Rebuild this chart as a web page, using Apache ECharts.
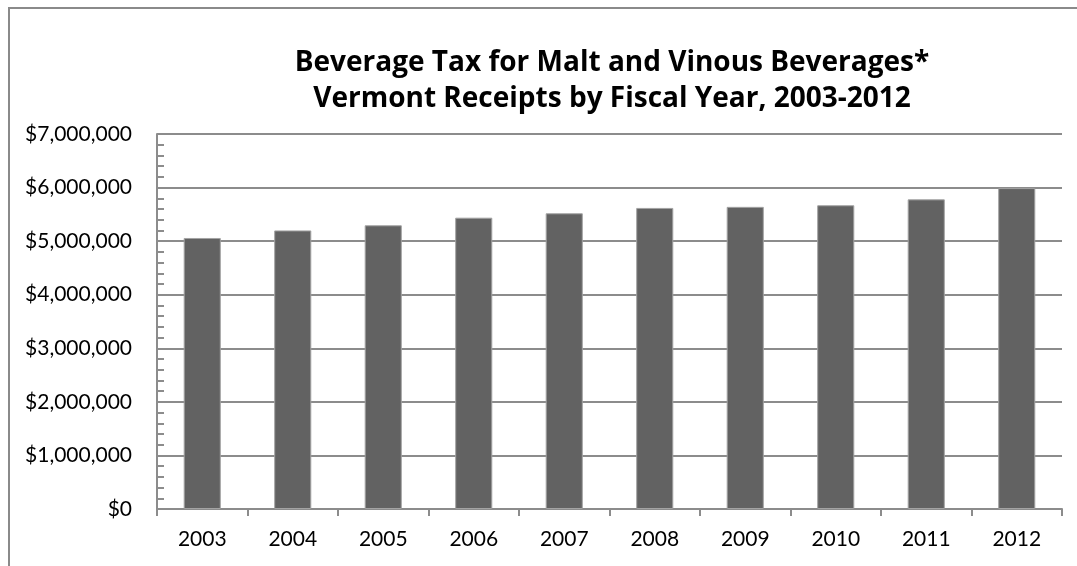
<!DOCTYPE html>
<html>
<head>
<meta charset="utf-8">
<script src="https://cdn.jsdelivr.net/npm/echarts@6/dist/echarts.min.js"></script>
<style>
  html, body { margin: 0; padding: 0; background: #fff; }
  #chart { width: 1077px; height: 566px; }
</style>
</head>
<body>
<div id="chart"></div>
<script>
// Fiscal years and beverage tax receipts (USD)
const years = ['2003', '2004', '2005', '2006', '2007', '2008', '2009', '2010', '2011', '2012'];
const receipts = [5059000, 5200000, 5296000, 5438000, 5520000, 5620000, 5640000, 5670000, 5780000, 5990000];
const titleLines = [
  'Beverage Tax for Malt and Vinous Beverages*',
  'Vermont Receipts by Fiscal Year, 2003-2012'
];

const FONT = 'Lato';
const GRID_GREY = '#8c8c8c';

function money(v) {
  return '$' + v.toLocaleString('en-US');
}

const chart = echarts.init(document.getElementById('chart'), null, { renderer: 'canvas' });

chart.setOption({
  animation: false,
  backgroundColor: '#ffffff',
  title: {
    text: titleLines.join('\n'),
    left: 607,
    top: 40,
    textAlign: 'center',
    textStyle: {
      fontFamily: 'Open Sans',
      fontWeight: 'bold',
      fontSize: 28,
      lineHeight: 36,
      color: '#000'
    }
  },
  graphic: [{
    type: 'rect',
    shape: { x: 9, y: 8, width: 1200, height: 700 },
    style: { fill: 'none', stroke: '#8a8a8a', lineWidth: 2 },
    silent: true
  }],
  grid: { left: 157, right: 15, top: 134, bottom: 57 },
  xAxis: {
    type: 'category',
    data: years,
    boundaryGap: true,
    axisLine: { lineStyle: { color: GRID_GREY, width: 2 } },
    axisTick: { show: true, length: 7, lineStyle: { color: GRID_GREY, width: 2 } },
    axisLabel: { margin: 20, fontFamily: FONT, fontSize: 21, color: '#000' }
  },
  yAxis: {
    type: 'value',
    min: 0,
    max: 7000000,
    interval: 1000000,
    axisLine: { show: true, lineStyle: { color: GRID_GREY, width: 2 } },
    axisTick: { show: true, inside: true, length: 7, lineStyle: { color: GRID_GREY, width: 2 } },
    minorTick: { show: true, splitNumber: 5, length: 7, lineStyle: { color: GRID_GREY, width: 2 } },
    splitLine: { show: true, lineStyle: { color: GRID_GREY, width: 2 } },
    axisLabel: { margin: 25, fontFamily: FONT, fontSize: 21, color: '#000', formatter: money }
  },
  series: [{
    type: 'bar',
    data: receipts,
    barWidth: '41%',
    itemStyle: { color: '#626262', borderColor: '#a3a3a3', borderWidth: 1 }
  }]
});
</script>
</body>
</html>
